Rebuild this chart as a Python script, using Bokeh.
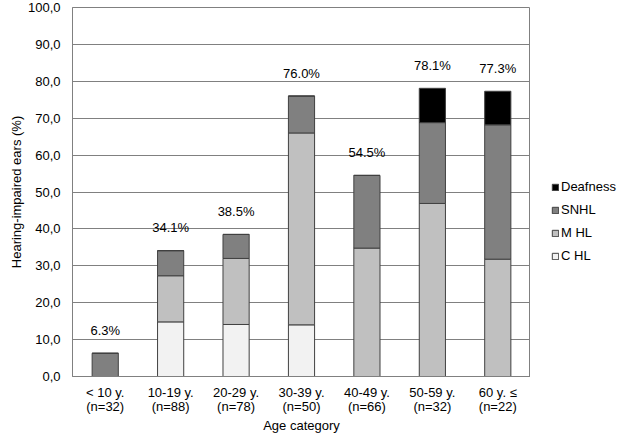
from bokeh.plotting import figure
from bokeh.layouts import row
from bokeh.models import FactorRange, Range1d, FixedTicker, Legend, LegendItem, ColumnDataSource
from bokeh.embed import file_html
from bokeh.resources import INLINE

categories = ["< 10 y.\n(n=32)", "10-19 y.\n(n=88)", "20-29 y.\n(n=78)", "30-39 y.\n(n=50)",
              "40-49 y.\n(n=66)", "50-59 y.\n(n=32)", "60 y. \u2264\n(n=22)"]
c_hl = [0.0, 14.8, 14.1, 14.0, 0.0, 0.0, 0.0]
m_hl = [0.0, 12.5, 17.9, 52.0, 34.8, 46.9, 31.8]
snhl = [6.3, 6.8, 6.5, 10.0, 19.7, 21.9, 36.4]
deaf = [0.0, 0.0, 0.0, 0.0, 0.0, 9.3, 9.1]
totals = [6.3, 34.1, 38.5, 76.0, 54.5, 78.1, 77.3]
total_labels = ["6.3%", "34.1%", "38.5%", "76.0%", "54.5%", "78.1%", "77.3%"]
y_ticks = [0, 10, 20, 30, 40, 50, 60, 70, 80, 90, 100]
y_tick_labels = ["0,0", "10,0", "20,0", "30,0", "40,0", "50,0", "60,0", "70,0", "80,0", "90,0", "100,0"]
series = ["C HL", "M HL", "SNHL", "Deafness"]
colors = ["#F2F2F2", "#C0C0C0", "#808080", "#000000"]

FONT = "Liberation Sans"
EDGE = "#404040"

src = ColumnDataSource(dict(cat=categories, c=c_hl, m=m_hl, s=snhl, d=deaf,
                            tot=totals, lab=total_labels))

p = figure(width=530, height=436, x_range=FactorRange(*categories), y_range=Range1d(0, 100),
           output_backend="svg", toolbar_location=None,
           min_border_left=72, min_border_right=0, min_border_top=7, min_border_bottom=60)

rs = p.vbar_stack(["c", "m", "s", "d"], x="cat", width=0.4, source=src,
                  fill_color=colors, line_color=EDGE, line_width=1)

p.text(x="cat", y="tot", text="lab", source=src, text_align="center", text_baseline="middle",
       y_offset=-23, text_font_size="13px", text_font={"value": FONT}, text_color="#000000")

p.outline_line_color = "#808080"
p.background_fill_color = "white"
p.border_fill_color = "white"
p.xgrid.grid_line_color = None
p.ygrid.grid_line_color = "#808080"
p.ygrid.grid_line_width = 1

p.yaxis.ticker = FixedTicker(ticks=y_ticks)
p.yaxis.major_label_overrides = {t: l for t, l in zip(y_ticks, y_tick_labels)}
p.yaxis.axis_label = "Hearing-impaired ears (%)"
p.xaxis.axis_label = "Age category"
for ax in (p.xaxis[0], p.yaxis[0]):
    ax.axis_line_color = "#808080"
    ax.major_tick_line_color = None
    ax.minor_tick_line_color = None
    ax.major_tick_out = 0
    ax.major_tick_in = 0
    ax.major_label_text_font = FONT
    ax.major_label_text_font_size = "13px"
    ax.major_label_text_color = "#000000"
    ax.axis_label_text_font = FONT
    ax.axis_label_text_font_size = "13px"
    ax.axis_label_text_font_style = "normal"
    ax.axis_label_text_color = "#000000"
p.yaxis.major_label_standoff = 12
p.yaxis.axis_label_standoff = 1
p.xaxis.major_label_standoff = 8
p.xaxis.major_label_text_line_height = 0.95
p.xaxis.axis_label_standoff = 1

# legend panel
lf = figure(width=88, height=433, x_range=Range1d(0, 1), y_range=Range1d(0, 1),
            output_backend="svg", toolbar_location=None, x_axis_type=None, y_axis_type=None,
            min_border=0, min_border_left=0, min_border_right=0, min_border_top=0, min_border_bottom=0)
lf.outline_line_color = None
lf.xgrid.grid_line_color = None
lf.ygrid.grid_line_color = None
lrs = [lf.vbar(x=[5], top=[5], bottom=[4], width=0.1, fill_color=colors[i], line_color=EDGE, line_width=1)
       for i in range(4)]
items = [LegendItem(label=series[i], renderers=[lrs[i]]) for i in [3, 2, 1, 0]]
legend = Legend(items=items, location=(21, 110), orientation="vertical",
                glyph_width=8, glyph_height=8, label_height=14, spacing=8,
                label_standoff=2, padding=0, margin=0, border_line_color=None,
                background_fill_alpha=0, label_text_font=FONT, label_text_font_size="13px",
                label_text_color="#000000")
lf.add_layout(legend, "center")

layout = row(p, lf, spacing=0)
open("out.html", "w").write(file_html(layout, INLINE))
